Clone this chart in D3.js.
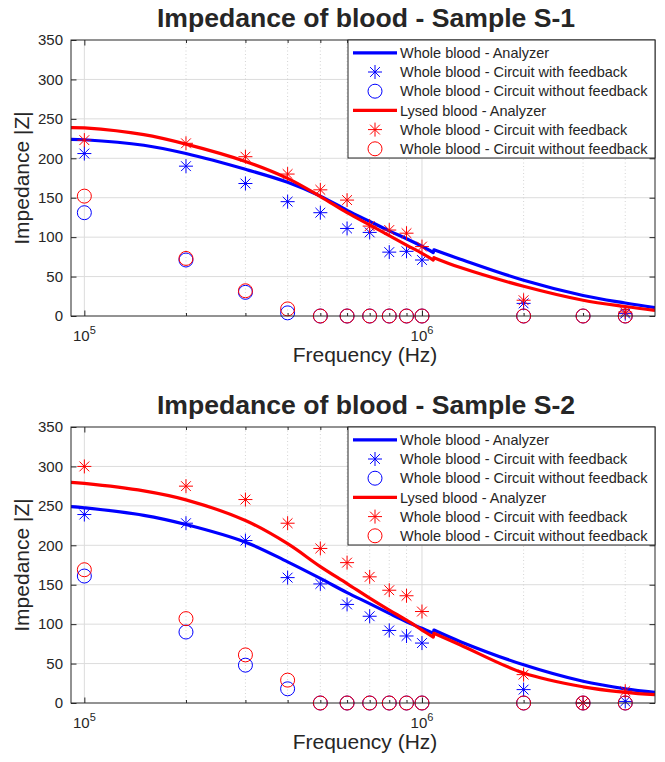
<!DOCTYPE html>
<html><head><meta charset="utf-8">
<script src="https://cdn.jsdelivr.net/npm/d3@7"></script>
<style>
body{margin:0;background:#fff}
svg{display:block}
text{font-family:"Liberation Sans",Arial,Helvetica,sans-serif;fill:#262626}
</style>
</head><body>
<svg id="c" width="665" height="762"></svg>
<script>
// ---------- DATA ----------
const freqs = [1e5,2e5,3e5,4e5,5e5,6e5,7e5,8e5,9e5,1e6,2e6,3e6,4e6];
const lineFreqs = [9.13e4,1e5,1.5e5,2e5,3e5,4e5,5e5,6e5,7e5,8e5,9e5,1e6,1.08e6,1.085e6,1.3e6,2e6,3e6,4e6,4.9e6];
const jogIndex = 13; // analyzer curve has a small step between 1.08 MHz and 1.085 MHz

// Sample S-1
const s1WholeAnalyzer = [224,223.5,216.5,206,186,169.5,152,134,120,108,98,88.4,80.5,84,72,45.3,26,16.5,10.6];
const s1LysedAnalyzer = [239,238.5,230,218,196,174.5,151.5,131,115.5,102,90,79.5,71,74,61.4,37.7,20,12,7.2];
const s1WholeFb   = [206,190,168,145,131,111,106,81,82,71,16,null,3];
const s1WholeNoFb = [131,71,30,4,0,0,0,0,0,0,0,0,0];
const s1LysedFb   = [223,219,202,180,160,147,114,109,105,88,20,null,5];
const s1LysedNoFb = [152,73,32,9,0,0,0,0,0,0,0,0,0];

// Sample S-2
const s2WholeAnalyzer = [249,247.5,238,226.4,204,179,158,140,126,113.6,103,94.7,88.4,92.5,77.8,48.4,27.5,18,13.4];
const s2LysedAnalyzer = [279.8,278.5,269,257.6,231.4,202,173,151.5,133,117.8,105,92.5,83.5,88.4,73.6,38,20.5,13.5,10.5];
const s2WholeFb   = [239,228,206,159,151,125,110,92,85,76,17,0,2];
const s2WholeNoFb = [161,90,48,18,0,0,0,0,0,0,0,0,0];
const s2LysedFb   = [300,275,258,228,196,178,160,143,136,116,36,0,15];
const s2LysedNoFb = [169,107,61,29,0,0,0,0,0,0,0,0,0];

const yTicks = [0,50,100,150,200,250,300,350];
const xMajorTicks = [1e5,1e6];
const xMajorLabels = [["10","5"],["10","6"]];
const xMinorTicks = [2e5,3e5,4e5,5e5,6e5,7e5,8e5,9e5,2e6,3e6,4e6];
const legendLabels = ["Whole blood - Analyzer","Whole blood - Circuit with feedback","Whole blood - Circuit without feedback",
  "Lysed blood - Analyzer","Whole blood - Circuit with feedback","Whole blood - Circuit without feedback"];
const titles = ["Impedance of blood - Sample S-1","Impedance of blood - Sample S-2"];
const xLabel = "Frequency (Hz)";
const yLabel = "Impedance |Z|";

// ---------- DRAW ----------
const BLUE="#0000ff", RED="#ff0000", AX="#262626";
const svg = d3.select("#c");
const L=71, R=655;
const x = d3.scaleLog().domain([9.13e4,4.9e6]).range([L,R]);

const asterisk = {draw(ctx,size){const r=Math.sqrt(size)/2, d=r*0.7;
  ctx.moveTo(0,-r);ctx.lineTo(0,r);ctx.moveTo(-r,0);ctx.lineTo(r,0);
  ctx.moveTo(-d,-d);ctx.lineTo(d,d);ctx.moveTo(-d,d);ctx.lineTo(d,-d);}};
const starPath = d3.symbol().type(asterisk).size(196)();
const circPath = d3.symbol().type(d3.symbolCircle).size(Math.PI*49)();

const panels = [
  {top:40,bottom:316,title:titles[0],wa:s1WholeAnalyzer,la:s1LysedAnalyzer,wf:s1WholeFb,wn:s1WholeNoFb,lf:s1LysedFb,ln:s1LysedNoFb},
  {top:427,bottom:703,title:titles[1],wa:s2WholeAnalyzer,la:s2LysedAnalyzer,wf:s2WholeFb,wn:s2WholeNoFb,lf:s2LysedFb,ln:s2LysedNoFb}
];

panels.forEach(p=>{
  const y = d3.scaleLinear().domain([0,350]).range([p.bottom,p.top]);
  const g = svg.append("g");
  // grid
  g.append("g").selectAll("line").data(yTicks.slice(1,-1)).join("line")
    .attr("x1",L).attr("x2",R).attr("y1",d=>y(d)).attr("y2",d=>y(d))
    .attr("stroke","#dcdcdc").attr("stroke-width",1);
  g.append("g").selectAll("line").data(xMajorTicks).join("line")
    .attr("x1",d=>x(d)).attr("x2",d=>x(d)).attr("y1",p.top).attr("y2",p.bottom)
    .attr("stroke","#dcdcdc").attr("stroke-width",1);
  g.append("g").selectAll("line").data(xMinorTicks).join("line")
    .attr("x1",d=>x(d)).attr("x2",d=>x(d)).attr("y1",p.top).attr("y2",p.bottom)
    .attr("stroke","#c8c8c8").attr("stroke-width",0.8).attr("stroke-dasharray","1,2.5");

  // axes (inward ticks)
  const ya = g.append("g").attr("transform",`translate(${L},0)`)
    .call(d3.axisLeft(y).tickValues(yTicks).tickSizeInner(-5.5).tickSizeOuter(0).tickPadding(8));
  ya.select(".domain").remove();
  ya.selectAll("line").attr("stroke",AX);
  ya.selectAll("text").attr("font-size",15).attr("fill","#404040").style("font-family",'"Liberation Sans",Arial,sans-serif');
  const yr = g.append("g").attr("transform",`translate(${R},0)`)
    .call(d3.axisRight(y).tickValues(yTicks).tickSizeInner(-5.5).tickSizeOuter(0).tickFormat(""));
  yr.select(".domain").remove(); yr.selectAll("line").attr("stroke",AX);

  [[d3.axisBottom,p.bottom],[d3.axisTop,p.top]].forEach(([ax,pos])=>{
    const a1 = g.append("g").attr("transform",`translate(0,${pos})`)
      .call(ax(x).tickValues(xMajorTicks).tickSizeInner(-5.5).tickSizeOuter(0).tickFormat(""));
    a1.select(".domain").remove(); a1.selectAll("line").attr("stroke",AX);
    const a2 = g.append("g").attr("transform",`translate(0,${pos})`)
      .call(ax(x).tickValues(xMinorTicks).tickSizeInner(-3).tickSizeOuter(0).tickFormat(""));
    a2.select(".domain").remove(); a2.selectAll("line").attr("stroke",AX);
  });

  // x major labels with superscripts
  xMajorTicks.forEach((t,i)=>{
    const tx = g.append("text").attr("x",x(t)).attr("y",p.bottom+25).attr("text-anchor","middle")
      .attr("font-size",15).attr("fill","#404040");
    tx.append("tspan").text(xMajorLabels[i][0]);
    tx.append("tspan").attr("font-size",11).attr("dy",-7).text(xMajorLabels[i][1]);
  });

  // labels
  svg.append("text").attr("x",(L+R)/2+3).attr("y",p.top-13).attr("text-anchor","middle")
    .attr("font-size",26.6).attr("font-weight","bold").attr("fill","#000").text(p.title);
  svg.append("text").attr("x",(L+R)/2+2).attr("y",p.bottom+46).attr("text-anchor","middle")
    .attr("font-size",21).text(xLabel);
  svg.append("text").attr("transform",`translate(29,${(p.top+p.bottom)/2}) rotate(-90)`)
    .attr("text-anchor","middle").attr("font-size",21).text(yLabel);

  // clip
  const cid = "clip"+p.top;
  svg.append("clipPath").attr("id",cid).append("rect").attr("x",L).attr("y",p.top).attr("width",R-L).attr("height",p.bottom-p.top);
  const line = d3.line().x(d=>x(d.f)).y(d=>y(d.v)).curve(d3.curveCatmullRom.alpha(0.5));
  const curvePath = (vals)=>{
    const pts = vals.map((v,i)=>({f:lineFreqs[i],v}));
    return line(pts.slice(0,jogIndex)) + line(pts.slice(jogIndex)).replace(/^M/,"L");
  };

  const pts = (arr)=>arr.map((v,i)=>({f:freqs[i],v})).filter(d=>d.v!==null);
  const drawMarkers = (arr,path,color)=>{
    svg.append("g").selectAll("path").data(pts(arr)).join("path")
      .attr("transform",d=>`translate(${x(d.f)},${y(d.v)})`).attr("d",path)
      .attr("fill","none").attr("stroke",color).attr("stroke-width",1);
  };
  svg.append("g").attr("clip-path",`url(#${cid})`).append("path").attr("d",curvePath(p.wa))
    .attr("fill","none").attr("stroke",BLUE).attr("stroke-width",3.2).attr("stroke-linejoin","round");
  drawMarkers(p.wf,starPath,BLUE);
  drawMarkers(p.wn,circPath,BLUE);
  svg.append("g").attr("clip-path",`url(#${cid})`).append("path").attr("d",curvePath(p.la))
    .attr("fill","none").attr("stroke",RED).attr("stroke-width",3.2).attr("stroke-linejoin","round");
  drawMarkers(p.lf,starPath,RED);
  drawMarkers(p.ln,circPath,RED);

  // box
  svg.append("rect").attr("x",L).attr("y",p.top).attr("width",R-L).attr("height",p.bottom-p.top)
    .attr("fill","none").attr("stroke",AX).attr("stroke-width",1);

  // legend
  const lg = svg.append("g").attr("transform",`translate(348,${p.top})`);
  lg.append("rect").attr("width",R-348).attr("height",118).attr("fill","#fff").attr("stroke",AX).attr("stroke-width",1);
  const kinds = [["line",BLUE],["star",BLUE],["circ",BLUE],["line",RED],["star",RED],["circ",RED]];
  kinds.forEach(([k,c],i)=>{
    const yy = 12.8 + i*19.2;
    if(k==="line") lg.append("line").attr("x1",5).attr("x2",49).attr("y1",yy).attr("y2",yy).attr("stroke",c).attr("stroke-width",3.2);
    else lg.append("path").attr("transform",`translate(27,${yy})`).attr("d",k==="star"?starPath:circPath)
      .attr("fill","none").attr("stroke",c).attr("stroke-width",1);
    lg.append("text").attr("x",52).attr("y",yy).attr("dy","0.36em").attr("font-size",14.5).text(legendLabels[i]);
  });
});
</script>
</body></html>
